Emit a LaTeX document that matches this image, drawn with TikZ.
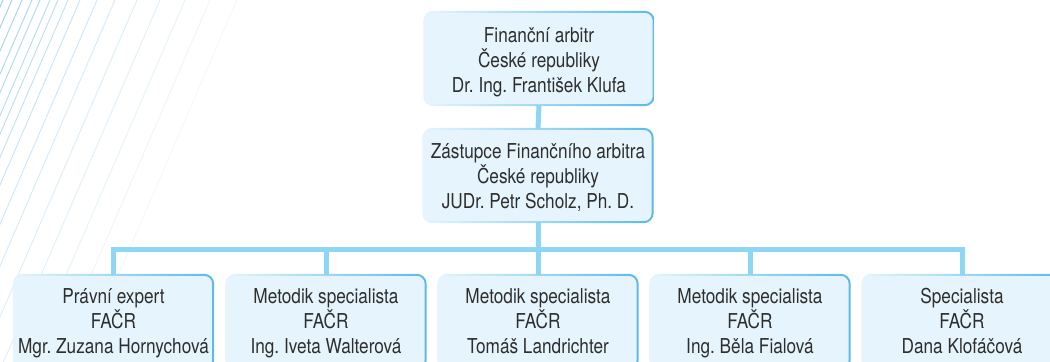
\documentclass[tikz,border=0pt]{standalone}
\usepackage{fontspec}
\setmainfont{TeX Gyre Heros}[FakeStretch=0.84]
\frenchspacing

\definecolor{cardfill}{HTML}{E6F5FD}
\definecolor{cardline}{HTML}{5BB9EA}
\definecolor{linkblue}{HTML}{8ED6F6}
\definecolor{stripeblue}{HTML}{7CBDE9}
\definecolor{textgray}{HTML}{2E2E2E}

\begin{document}
\begin{tikzpicture}[x=1bp,y=1bp,
	card/.style={fill=cardfill, rounded corners=9bp, minimum width=229bp, minimum height=93bp,
		align=center, text=textgray, inner sep=0pt, font=\fontsize{20.5bp}{25bp}\selectfont,
		text height=71bp, text depth=4bp},
	deputy/.style={card, text height=69bp},
	staff/.style={card, minimum width=199bp, minimum height=94bp, text height=66bp},
	rim/.style={left color=cardfill, middle color=cardline!55!cardfill, right color=cardline, even odd rule},
	link/.style={draw=linkblue, line width=5bp, line join=miter}]
	
	\useasboundingbox (0,0) rectangle (1050,361);
	
	% stripes
	\foreach \x/\s in {-52/75,-44/75,-36/75,-28/75,-20/75,-12/75,-5/75,3/72,12/68,22/64,32/60,
		40/56,50/52,58/48,68/44,80/40,97/35,115/30,137/26,160/22,185/18,210/14,237/10}
		\draw[color=stripeblue!\s!white, line width=1bp] (\x,361) -- ++(-160,-370);
	
	% Arbitr
	\node[card] (arbitr) at (539,302.5) {Finanční arbitr\\České republiky\\Dr. Ing. František Klufa};
	\node[deputy] (zastupce) at (538,185.5) {Zástupce Finančního arbitra\\České republiky\\JUDr. Petr Scholz, Ph. D.};
	
	% FAČR
	\node[staff] (pravni) at (113.5,39) {Právní expert\\FAČR\\Mgr. Zuzana Hornychová};
	\node[staff] (metodik1) at (326,39) {Metodik specialista\\FAČR\\Ing. Iveta Walterová};
	\node[staff] (metodik2) at (538,39) {Metodik specialista\\FAČR\\Tomáš Landrichter};
	\node[staff] (metodik3) at (750,39) {Metodik specialista\\FAČR\\Ing. Běla Fialová};
	\node[staff] (special) at (962,39) {Specialista\\FAČR\\Dana Klofáčová};
	
	\foreach \n in {arbitr,zastupce,pravni,metodik1,metodik2,metodik3,special}
		\shade[rim] [rounded corners=10bp] ([shift={(-1,1)}]\n.north west) rectangle ([shift={(1,-1)}]\n.south east)
			[rounded corners=8bp] ([shift={(1,-1)}]\n.north west) rectangle ([shift={(-1,1)}]\n.south east);
	
	% links
	\draw[link] (arbitr.south) -- (zastupce.north);
	\draw[link] (zastupce.south) -- ++(0,-27) coordinate (hub);
	\draw[link] (pravni.north) |- (hub) -| (special.north);
	\foreach \n in {metodik1,metodik2,metodik3}
		\draw[link] (\n.north) -- (\n.north |- hub);
	
\end{tikzpicture}
\end{document}
